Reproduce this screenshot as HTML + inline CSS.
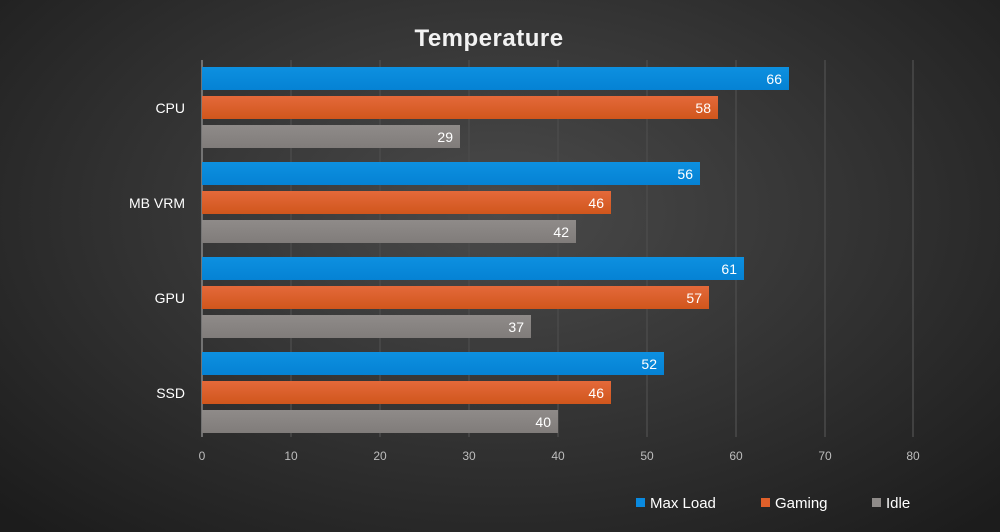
<!DOCTYPE html>
<html><head><style>
html,body{margin:0;padding:0;width:1000px;height:532px;overflow:hidden}
body{background:radial-gradient(ellipse 70% 80% at 50% 40%,#4a4a4a 0%,#383838 40%,#1c1c1c 100%);font-family:"Liberation Sans",sans-serif}
</style></head><body>
<svg width="1000" height="532" xmlns="http://www.w3.org/2000/svg" style="position:absolute;left:0;top:0">
<defs>
<linearGradient id="b" x1="0" y1="0" x2="0" y2="1"><stop offset="0" stop-color="#0d90e0"/><stop offset="1" stop-color="#0582d4"/></linearGradient>
<linearGradient id="o" x1="0" y1="0" x2="0" y2="1"><stop offset="0" stop-color="#e4693a"/><stop offset="1" stop-color="#d0561c"/></linearGradient>
<linearGradient id="g" x1="0" y1="0" x2="0" y2="1"><stop offset="0" stop-color="#8f8b89"/><stop offset="1" stop-color="#807c7a"/></linearGradient>
</defs>
<text x="489" y="46" text-anchor="middle" fill="#f2f2f2" font-size="24" font-weight="bold" letter-spacing="0.5">Temperature</text>
<g stroke="#4a4a4a" stroke-width="1.5">
<line x1="291" y1="60" x2="291" y2="437"/><line x1="380" y1="60" x2="380" y2="437"/>
<line x1="469" y1="60" x2="469" y2="437"/><line x1="558" y1="60" x2="558" y2="437"/>
<line x1="647" y1="60" x2="647" y2="437"/><line x1="736" y1="60" x2="736" y2="437"/>
<line x1="825" y1="60" x2="825" y2="437"/><line x1="913" y1="60" x2="913" y2="437"/>
</g>
<line x1="202" y1="60" x2="202" y2="437" stroke="#888" stroke-width="1.5"/>
<g font-size="12" fill="#bdbdbd" text-anchor="middle">
<text x="202" y="460">0</text><text x="291" y="460">10</text><text x="380" y="460">20</text><text x="469" y="460">30</text><text x="558" y="460">40</text><text x="647" y="460">50</text><text x="736" y="460">60</text><text x="825" y="460">70</text><text x="913" y="460">80</text>
</g>
<g font-size="14" fill="#fff" text-anchor="end">
<text x="185" y="113">CPU</text><text x="185" y="208">MB VRM</text><text x="185" y="303">GPU</text><text x="185" y="398">SSD</text>
</g>
<g>
<rect x="202" y="67" width="587" height="23" fill="url(#b)"/>
<rect x="202" y="96" width="516" height="23" fill="url(#o)"/>
<rect x="202" y="125" width="258" height="23" fill="url(#g)"/>
<rect x="202" y="162" width="498" height="23" fill="url(#b)"/>
<rect x="202" y="191" width="409" height="23" fill="url(#o)"/>
<rect x="202" y="220" width="374" height="23" fill="url(#g)"/>
<rect x="202" y="257" width="542" height="23" fill="url(#b)"/>
<rect x="202" y="286" width="507" height="23" fill="url(#o)"/>
<rect x="202" y="315" width="329" height="23" fill="url(#g)"/>
<rect x="202" y="352" width="462" height="23" fill="url(#b)"/>
<rect x="202" y="381" width="409" height="23" fill="url(#o)"/>
<rect x="202" y="410" width="356" height="23" fill="url(#g)"/>
</g>
<g font-size="14" fill="#fff" text-anchor="end">
<text x="782" y="84">66</text><text x="711" y="113">58</text><text x="453" y="142">29</text>
<text x="693" y="179">56</text><text x="604" y="208">46</text><text x="569" y="237">42</text>
<text x="737" y="274">61</text><text x="702" y="303">57</text><text x="524" y="332">37</text>
<text x="657" y="369">52</text><text x="604" y="398">46</text><text x="551" y="427">40</text>
</g>
<rect x="636" y="498" width="9" height="9" fill="#0a8ae0"/>
<rect x="761" y="498" width="9" height="9" fill="#e0602a"/>
<rect x="872" y="498" width="9" height="9" fill="#8f8b89"/>
<g font-size="15" fill="#fff">
<text x="650" y="508">Max Load</text><text x="775" y="508">Gaming</text><text x="886" y="508">Idle</text>
</g>
</svg>
</body></html>
